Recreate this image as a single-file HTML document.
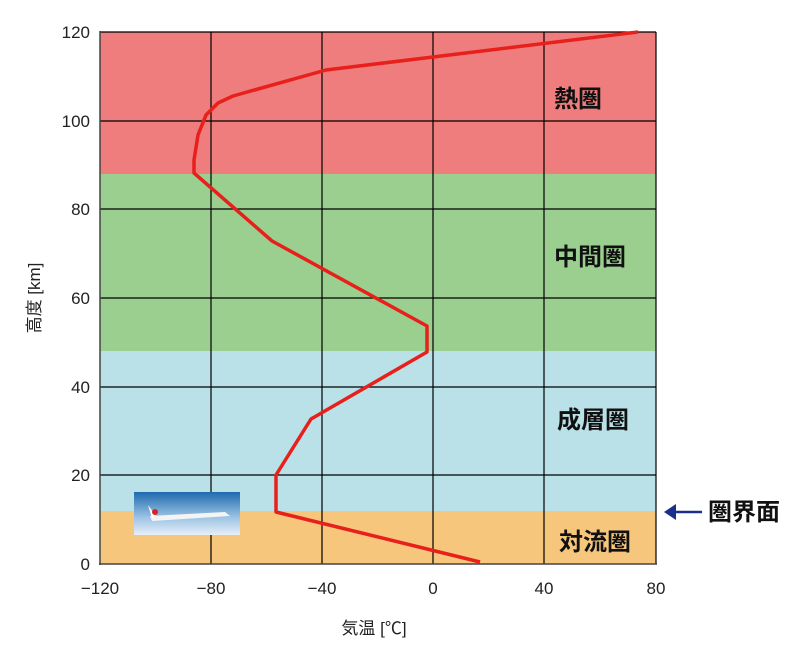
<!DOCTYPE html>
<html><head><meta charset="utf-8"><style>
body{margin:0;background:#fff}
text{font-family:"Liberation Sans","Noto Sans CJK JP",sans-serif}
</style></head><body>
<svg width="800" height="649" viewBox="0 0 800 649" xmlns="http://www.w3.org/2000/svg">
<defs>
<linearGradient id="sky" x1="0" y1="0" x2="0" y2="1">
<stop offset="0" stop-color="#1d6bb0"/><stop offset="0.6" stop-color="#9fc4e4"/><stop offset="1" stop-color="#e6eff8"/>
</linearGradient>
</defs>
<rect x="100" y="32" width="556" height="142" fill="#ef7d7d"/>
<rect x="100" y="174" width="556" height="177" fill="#9bcf90"/>
<rect x="100" y="351" width="556" height="160" fill="#b9e1e7"/>
<rect x="100" y="511" width="556" height="53" fill="#f6c67c"/>
<g stroke="#000" stroke-width="1.2">
<line x1="100" y1="32" x2="656" y2="32"/>
<line x1="100" y1="121" x2="656" y2="121"/>
<line x1="100" y1="209" x2="656" y2="209"/>
<line x1="100" y1="298" x2="656" y2="298"/>
<line x1="100" y1="387" x2="656" y2="387"/>
<line x1="100" y1="475" x2="656" y2="475"/>
<line x1="211" y1="32" x2="211" y2="564"/>
<line x1="322" y1="32" x2="322" y2="564"/>
<line x1="433" y1="32" x2="433" y2="564"/>
<line x1="544" y1="32" x2="544" y2="564"/>
<line x1="656" y1="32" x2="656" y2="564"/>
</g>
<g stroke="#444" stroke-width="1.5">
<line x1="100" y1="31" x2="100" y2="565"/>
<line x1="99" y1="564" x2="657" y2="564"/>
</g>
<rect x="134" y="492" width="106" height="43" fill="url(#sky)"/>
<path d="M150 516 L225 512 L230 516 L152 521 Z" fill="#f4f4f4"/>
<path d="M148 505 L156 516 L152 518 Z" fill="#fff"/>
<circle cx="155" cy="512" r="3" fill="#d22"/>
<polyline fill="none" stroke="#e8201c" stroke-width="3.5" stroke-linejoin="round"
points="480,562 276,512 276,475 311,419 427,352 427,326 272,241 194,173 194,160 198,135 206,115 218,103 233,96 326,70 638,32"/>
<g font-size="24" font-weight="bold" fill="#111">
<text x="554" y="107">熱圏</text>
<text x="554" y="265">中間圏</text>
<text x="557" y="428">成層圏</text>
<text x="559" y="550">対流圏</text>
<text x="708" y="520">圏界面</text>
</g>
<line x1="666" y1="512" x2="702" y2="512" stroke="#1a2f8a" stroke-width="2.5"/>
<path d="M664 512 L676 504 L676 520 Z" fill="#1a2f8a"/>
<g font-size="17" fill="#222" text-anchor="end">
<text x="90" y="38">120</text>
<text x="90" y="127">100</text>
<text x="90" y="215">80</text>
<text x="90" y="304">60</text>
<text x="90" y="393">40</text>
<text x="90" y="481">20</text>
<text x="90" y="570">0</text>
</g>
<g font-size="17" fill="#222" text-anchor="middle">
<text x="100" y="594">−120</text>
<text x="211" y="594">−80</text>
<text x="322" y="594">−40</text>
<text x="433" y="594">0</text>
<text x="544" y="594">40</text>
<text x="656" y="594">80</text>
<text x="374" y="634">気温 [℃]</text>
</g>
<text transform="translate(40,298) rotate(-90)" font-size="17" fill="#222" text-anchor="middle">高度 [km]</text>
</svg>
</body></html>
